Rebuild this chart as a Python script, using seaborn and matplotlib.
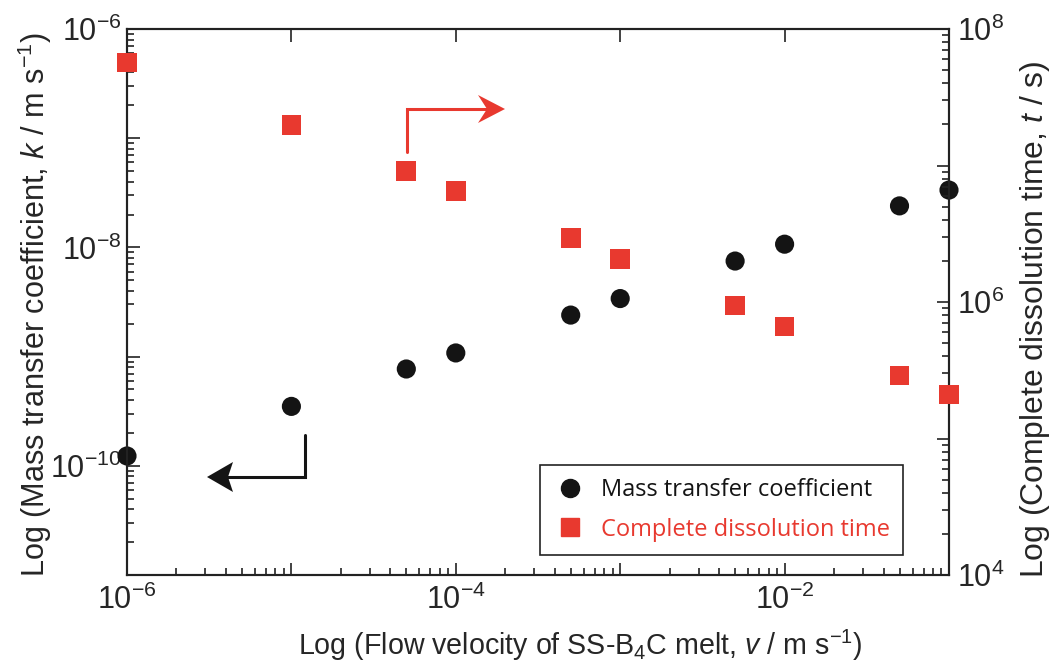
import numpy as np
import matplotlib
matplotlib.use("Agg")
import matplotlib.pyplot as plt
import matplotlib.ticker as mticker
from matplotlib.lines import Line2D
from matplotlib.patches import Polygon
import seaborn as sns

# Data
velocity = [1e-6, 1e-5, 5e-5, 1e-4, 5e-4, 1e-3, 5e-3, 1e-2, 5e-2, 1e-1]
mass_transfer_k = [1.23e-10, 3.5e-10, 7.7e-10, 1.08e-9, 2.4e-9, 3.4e-9, 7.5e-9, 1.07e-8, 2.4e-8, 3.35e-8]
dissolution_time = [5.7e7, 1.98e7, 9.1e6, 6.5e6, 2.95e6, 2.07e6, 9.4e5, 6.6e5, 2.9e5, 2.1e5]

series_labels = ["Mass transfer coefficient", "Complete dissolution time"]
black = "#141414"
red = "#E8392F"

sns.set_style("ticks")
plt.rcParams["font.family"] = ["Liberation Sans", "DejaVu Sans"]
plt.rcParams["mathtext.fontset"] = "custom"
plt.rcParams["mathtext.rm"] = "Liberation Sans"
plt.rcParams["mathtext.it"] = "Liberation Sans:italic"
plt.rcParams["mathtext.default"] = "regular"

W, H = 1056, 665
fig = plt.figure(figsize=(W / 100, H / 100), dpi=100)
ax = fig.add_axes([127 / W, 1 - 575 / H, 822 / W, 546 / H])
ax2 = ax.twinx()

sns.scatterplot(x=velocity, y=mass_transfer_k, ax=ax, color=black, marker="o",
                s=190, edgecolor="none", clip_on=False, zorder=5)
sns.scatterplot(x=velocity, y=dissolution_time, ax=ax2, color=red, marker="s",
                s=200, edgecolor="none", clip_on=False, zorder=5)

ax.set_xscale("log")
ax.set_yscale("log")
ax2.set_yscale("log")
ax.set_xlim(1e-6, 1e-1)
ax.set_ylim(1e-11, 1e-6)
ax2.set_ylim(1e4, 1e8)


def even_decades(val, pos):
    e = int(round(np.log10(val)))
    return f"$10^{{{e}}}$" if e % 2 == 0 else ""


for axis in (ax.xaxis, ax.yaxis, ax2.yaxis):
    axis.set_major_locator(mticker.LogLocator(base=10, numticks=20))
    axis.set_minor_locator(mticker.LogLocator(base=10, subs=np.arange(2, 10), numticks=20))
    axis.set_major_formatter(mticker.FuncFormatter(even_decades))
    axis.set_minor_formatter(mticker.NullFormatter())

for a in (ax, ax2):
    a.tick_params(which="both", direction="in", labelsize=22, width=1.2, color="#222222")
    a.tick_params(which="major", length=9)
    a.tick_params(which="minor", length=5)
    for sp in a.spines.values():
        sp.set_linewidth(1.5)
        sp.set_color("#222222")
ax.tick_params(top=True, right=False)
ax.tick_params(axis="x", pad=7)
ax.tick_params(axis="y", pad=4)
ax2.tick_params(axis="y", pad=6)

xl = ax.set_xlabel("Log (Flow velocity of SS-B$_4$C melt, $\\mathit{v}$ / m s$^{-1}$)", fontsize=19)
yl = ax.set_ylabel("Log (Mass transfer coefficient, $\\mathit{k}$ / m s$^{-1}$)", fontsize=19)
yr = ax2.set_ylabel("Log (Complete dissolution time, $\\mathit{t}$ / s)", fontsize=19)

# scale label fonts so their lengths match the reference (pixels)
fig.canvas.draw()
renderer = fig.canvas.get_renderer()
for label, target, vertical in ((yl, 546, True), (yr, 518, True)):
    bb = label.get_window_extent(renderer=renderer)
    length = bb.height if vertical else bb.width
    label.set_fontsize(label.get_fontsize() * target / length)

bb = xl.get_window_extent(renderer=renderer)
xl.set_fontsize(xl.get_fontsize() * min(598 / bb.width, 35 / bb.height))

ax.xaxis.set_label_coords((580 - 127) / 822, (575 - 628) / 546)
ax.yaxis.set_label_coords((54 - 127) / 822, (575 - 305) / 546)
ax2.yaxis.set_label_coords((1018 - 127) / 822, (575 - 319) / 546)


# direction arrows, drawn in figure pixels (origin top-left)
def px(x, y):
    return (x / W, 1 - y / H)


def bent_arrow(points, tip, back, half, notch, color):
    xs, ys = zip(*[px(*p) for p in points])
    fig.add_artist(Line2D(xs, ys, transform=fig.transFigure, color=color, lw=2.2,
                          solid_joinstyle="miter"))
    tx, ty = tip
    d = np.sign(back - tx)
    head = [px(tx, ty), px(back, ty - half), px(tx + d * notch, ty), px(back, ty + half)]
    fig.add_artist(Polygon(head, closed=True, transform=fig.transFigure,
                           facecolor=color, edgecolor="none"))


bent_arrow([(305, 435), (305, 477), (225, 477)], (207, 477), 233, 15, 21, black)
bent_arrow([(407, 152), (407, 109), (488, 109)], (505, 109), 478, 14, 18, red)

handles = [
    Line2D([], [], linestyle="none", marker="o", markersize=13, color=black),
    Line2D([], [], linestyle="none", marker="s", markersize=13, color=red),
]
leg = ax2.legend(handles, series_labels, loc="lower left",
                 bbox_to_anchor=((540 - 127) / 822, (575 - 555) / 546),
                 frameon=True, fancybox=False, edgecolor="#222222", framealpha=1,
                 prop={"family": ["Open Sans", "DejaVu Sans"], "size": 17},
                 handletextpad=0.6, borderpad=0.57, labelspacing=0.64, handlelength=1.4,
                 borderaxespad=0)
leg.get_frame().set_linewidth(1.2)
leg.get_texts()[0].set_color(black)
leg.get_texts()[1].set_color(red)

fig.savefig("out.png", dpi=100)
